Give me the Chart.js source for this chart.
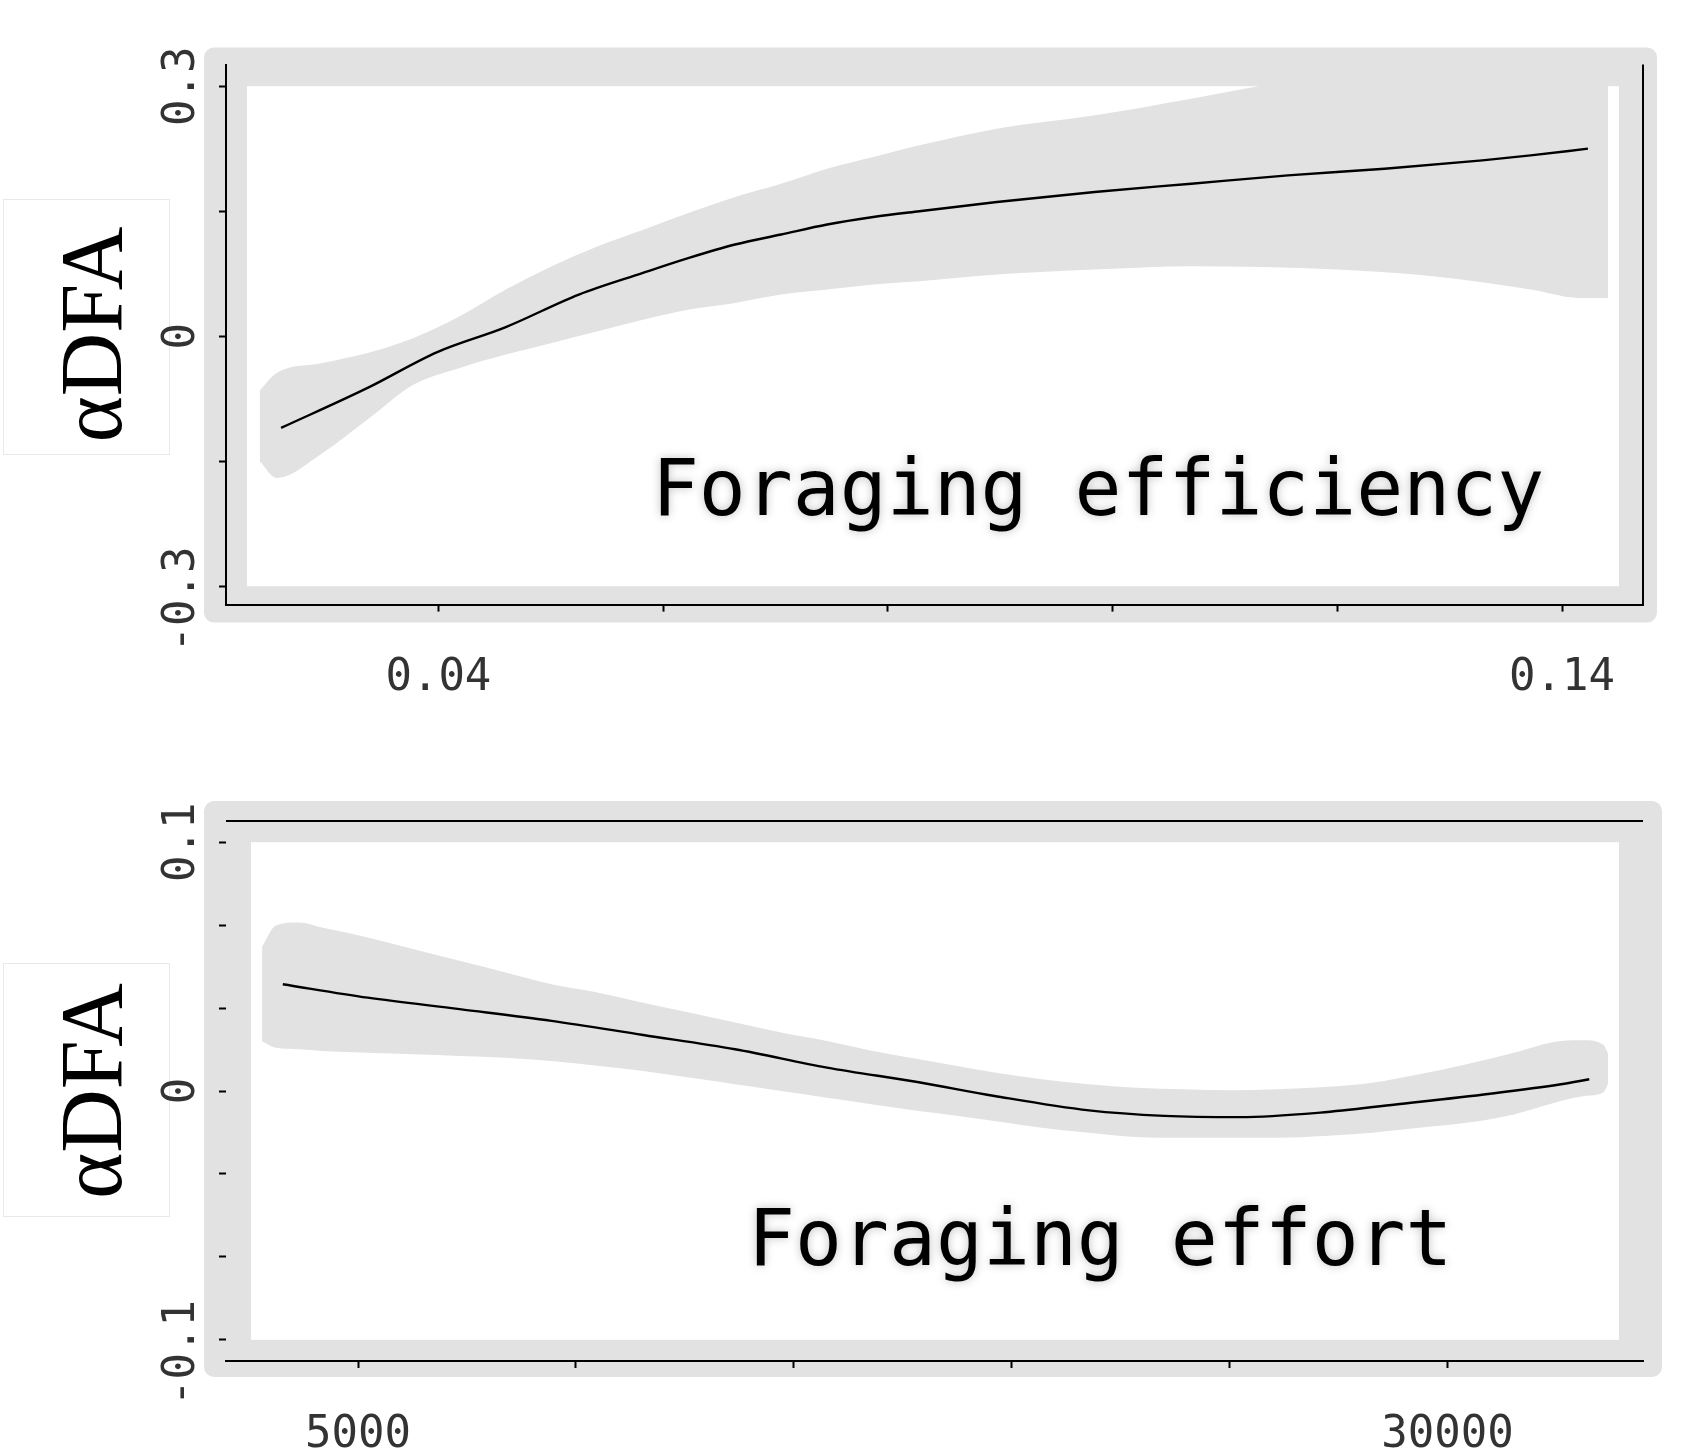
<!DOCTYPE html>
<html>
<head>
<meta charset="utf-8">
<title>Foraging efficiency / effort vs αDFA</title>
<script src="https://cdn.jsdelivr.net/npm/chart.js@4.4.1/dist/chart.umd.min.js"></script>
<style>
    html, body { margin: 0; padding: 0; background: #fff; }
    .panel { position: absolute; left: 0; width: 1687px; height: 724px; }
    #top-panel { top: 0; }
    #bottom-panel { top: 724px; }
</style>
</head>
<body>
<div class="panel" id="top-panel"><canvas id="efficiencyChart"></canvas></div>
<div class="panel" id="bottom-panel"><canvas id="effortChart"></canvas></div>

<script>
// --- Foraging efficiency (top panel) ---
const effLineX = [0.0260, 0.0337, 0.0399, 0.0460, 0.0525, 0.0582, 0.0623, 0.0664, 0.0705, 0.0746,
                  0.0787, 0.0828, 0.0897, 0.0984, 0.1070, 0.1156, 0.1242, 0.1329, 0.1372, 0.1423];
const effLineY = [-0.110, -0.062, -0.019, 0.011, 0.050, 0.076, 0.094, 0.110, 0.122, 0.134,
                  0.143, 0.150, 0.161, 0.173, 0.183, 0.193, 0.201, 0.211, 0.217, 0.225];

const effBandX = [0.0241, 0.0256, 0.0297, 0.0337, 0.0378, 0.0419, 0.0460, 0.0501, 0.0542, 0.0583,
                  0.0623, 0.0664, 0.0705, 0.0746, 0.0787, 0.0828, 0.0897, 0.0984, 0.1070, 0.1134,
                  0.1200, 0.1285, 0.1372, 0.1415, 0.1441];
const effBandUpper = [-0.065, -0.044, -0.032, -0.020, -0.002, 0.024, 0.056, 0.084, 0.108, 0.128,
                      0.148, 0.167, 0.183, 0.201, 0.215, 0.229, 0.249, 0.265, 0.285, 0.301,
                      0.316, 0.335, 0.355, 0.360, 0.360];
const effBandLower = [-0.150, -0.170, -0.140, -0.100, -0.058, -0.038, -0.022, -0.008, 0.006, 0.020,
                      0.032, 0.040, 0.050, 0.056, 0.062, 0.066, 0.074, 0.080, 0.084, 0.083,
                      0.080, 0.072, 0.056, 0.046, 0.046];

const effXTicks = [0.04, 0.06, 0.08, 0.10, 0.12, 0.14];
const effXLabels = ['0.04', '', '', '', '', '0.14'];
const effYTicks = [-0.3, -0.15, 0, 0.15, 0.3];
const effYLabels = ['-0.3 ', '', '0', '', '0.3'];

// --- Foraging effort (bottom panel) ---
const effortLineX = [3274, 5223, 7332, 9439, 11545, 13652, 15761, 17868, 19605, 21772,
                     23500, 25237, 27078, 28811, 30977, 32602, 33251];
const effortLineY = [0.0429, 0.0375, 0.0329, 0.0282, 0.0225, 0.0168, 0.0094, 0.0035, -0.0020, -0.0078,
                     -0.0100, -0.0105, -0.0087, -0.0054, -0.0011, 0.0027, 0.0047];

const effortBandX = [2799, 3116, 3644, 4169, 5223, 6278, 7332, 8385, 9439, 10492,
                     11545, 12599, 13652, 14708, 15761, 16815, 17868, 18522, 19605, 20689,
                     21772, 22856, 23939, 25020, 26103, 27186, 28269, 29352, 30435, 31519,
                     32602, 33144, 33578, 33686];
const effortBandUpper = [0.0580, 0.0665, 0.0677, 0.0657, 0.0617, 0.0570, 0.0523, 0.0476, 0.0429, 0.0396,
                         0.0355, 0.0315, 0.0275, 0.0235, 0.0201, 0.0161, 0.0128, 0.0107, 0.0074, 0.0047,
                         0.0027, 0.0013, 0.0007, 0.0003, 0.0007, 0.0016, 0.0033, 0.0067, 0.0107, 0.0154,
                         0.0201, 0.0204, 0.0185, 0.0150];
const effortBandLower = [0.0200, 0.0174, 0.0168, 0.0161, 0.0154, 0.0148, 0.0141, 0.0134, 0.0121, 0.0101,
                         0.0080, 0.0054, 0.0027, 0.0000, -0.0027, -0.0054, -0.0080, -0.0094, -0.0121, -0.0148,
                         -0.0168, -0.0185, -0.0188, -0.0188, -0.0188, -0.0181, -0.0168, -0.0148, -0.0128, -0.0094,
                         -0.0040, -0.0020, -0.0005, 0.0030];

const effortXTicks = [5000, 10000, 15000, 20000, 25000, 30000];
const effortXLabels = ['5000', '', '', '', '', '30000'];
const effortYTicks = [-0.1, -0.2 / 3, -0.1 / 3, 0, 0.1 / 3, 0.2 / 3, 0.1];
const effortYLabels = ['-0.1 ', '', '', '0', '', '', '0.1'];

const GREY = '#e2e2e2';
const MONO = 'DejaVu Sans Mono';

function toPoints(xs, ys) {
    return xs.map((x, i) => ({ x: x, y: ys[i] }));
}

// --- Grey frame, extra edges and the in-plot caption ---
const panelFrame = {
    id: 'panelFrame',
    beforeDraw(chart, args, o) {
        const { ctx, chartArea: a } = chart;
        const y = chart.scales.y;
        ctx.save();
        // white box behind the axis title
        const b = o.labelBox;
        ctx.fillStyle = '#fff';
        ctx.fillRect(b[0], b[1], b[2], b[3]);
        ctx.strokeStyle = '#e9e9e9';
        ctx.lineWidth = 1;
        ctx.strokeRect(b[0] + 0.5, b[1] + 0.5, b[2], b[3]);
        // grey frame
        ctx.fillStyle = GREY;
        ctx.beginPath();
        ctx.roundRect(a.left - o.outer[0], a.top - o.outer[1],
            a.width + o.outer[0] + o.outer[2], a.height + o.outer[1] + o.outer[3], 10);
        ctx.fill();
        // white interior, between the outer y ticks
        const top = y.getPixelForValue(o.innerMax);
        const bottom = y.getPixelForValue(o.innerMin);
        ctx.fillStyle = '#fff';
        ctx.fillRect(a.left + o.inner[0], top, a.width - o.inner[0] - o.inner[1], bottom - top);
        ctx.restore();
    },
    beforeDatasetsDraw(chart, args, o) {
        const { ctx, chartArea: a } = chart;
        ctx.save();
        ctx.strokeStyle = '#000';
        ctx.lineWidth = 2;
        ctx.beginPath();
        if (o.edges.includes('right')) { ctx.moveTo(a.right, a.top); ctx.lineTo(a.right, a.bottom); }
        if (o.edges.includes('top')) { ctx.moveTo(a.left, a.top); ctx.lineTo(a.right, a.top); }
        ctx.stroke();
        ctx.restore();
    },
    afterDatasetsDraw(chart, args, o) {
        const { ctx, scales: { x, y } } = chart;
        ctx.save();
        ctx.font = '78px "' + MONO + '"';
        ctx.textBaseline = 'alphabetic';
        ctx.textAlign = 'left';
        ctx.fillStyle = '#000';
        ctx.shadowColor = 'rgba(0,0,0,0.25)';
        ctx.shadowBlur = 10;
        ctx.fillText(o.note, x.getPixelForValue(o.noteAt[0]), y.getPixelForValue(o.noteAt[1]));
        ctx.restore();
    }
};

function buildPanel(canvasId, p) {
    const tickFont = { family: MONO, size: 44 };
    return new Chart(document.getElementById(canvasId), {
        type: 'line',
        data: {
            datasets: [
                {
                    data: toPoints(p.lineX, p.lineY),
                    borderColor: '#000', borderWidth: 2.4, pointRadius: 0,
                    cubicInterpolationMode: 'monotone', fill: false
                },
                {
                    data: toPoints(p.bandX, p.bandUpper),
                    borderColor: 'rgba(0,0,0,0)', borderWidth: 0, pointRadius: 0,
                    cubicInterpolationMode: 'monotone', fill: false
                },
                {
                    data: toPoints(p.bandX, p.bandLower),
                    borderColor: 'rgba(0,0,0,0)', borderWidth: 0, pointRadius: 0,
                    cubicInterpolationMode: 'monotone', fill: '-1', backgroundColor: GREY
                }
            ]
        },
        options: {
            responsive: true,
            maintainAspectRatio: false,
            devicePixelRatio: 1,
            animation: false,
            events: [],
            layout: { padding: p.padding },
            plugins: {
                legend: { display: false },
                tooltip: { enabled: false },
                panelFrame: p.frame
            },
            scales: {
                x: {
                    type: 'linear', min: p.xMin, max: p.xMax,
                    afterBuildTicks: s => { s.ticks = p.xTicks.map(v => ({ value: v })); },
                    afterFit: s => { s.height = p.xHeight; },
                    grid: { display: true, drawOnChartArea: false, drawTicks: true, tickLength: 7, tickColor: '#000', tickWidth: 2 },
                    border: { display: true, color: '#000', width: 2, dash: p.xDash },
                    ticks: {
                        callback: (v, i) => p.xLabels[i],
                        autoSkip: false, maxRotation: 0, padding: 41,
                        color: '#333', font: tickFont
                    }
                },
                y: {
                    type: 'linear', min: p.yMin, max: p.yMax,
                    afterBuildTicks: s => { s.ticks = p.yTicks.map(v => ({ value: v })); },
                    afterFit: s => { s.width = 226; },
                    grid: { display: true, drawOnChartArea: false, drawTicks: true, tickLength: 7, tickColor: '#000', tickWidth: 2 },
                    border: { display: p.yBorder, color: '#000', width: 2 },
                    ticks: {
                        callback: (v, i) => p.yLabels[i],
                        autoSkip: false, minRotation: 90, maxRotation: 90,
                        crossAlign: 'center', padding: -30,
                        color: '#333', font: tickFont
                    },
                    title: {
                        display: true, text: 'αDFA', color: '#000',
                        font: { family: 'Liberation Serif', size: 88 },
                        padding: { top: 45, bottom: 0 }
                    }
                }
            }
        },
        plugins: [panelFrame]
    });
}

// --- Initialization ---
buildPanel('efficiencyChart', {
    lineX: effLineX, lineY: effLineY,
    bandX: effBandX, bandUpper: effBandUpper, bandLower: effBandLower,
    xMin: 0.0211, xMax: 0.1472, xTicks: effXTicks, xLabels: effXLabels, xDash: [], xHeight: 110,
    yMin: -0.322, yMax: 0.326, yTicks: effYTicks, yLabels: effYLabels, yBorder: true,
    padding: { left: 0, top: 64.5, right: 44, bottom: 9.4 },
    frame: {
        labelBox: [3, 199, 166, 255],
        outer: [22, 17, 14, 18], inner: [21, 24],
        innerMax: 0.3, innerMin: -0.3,
        edges: ['right'],
        note: 'Foraging efficiency', noteAt: [0.0590, -0.215]
    }
});

buildPanel('effortChart', {
    lineX: effortLineX, lineY: effortLineY,
    bandX: effortBandX, bandUpper: effortBandUpper, bandLower: effortBandLower,
    xMin: 1971, xMax: 34484, xTicks: effortXTicks, xLabels: effortXLabels, xDash: [12, 3], xHeight: 87,
    yMin: -0.1085, yMax: 0.1085, yTicks: effortYTicks, yLabels: effortYLabels, yBorder: false,
    padding: { left: 0, top: 97, right: 44, bottom: 0 },
    frame: {
        labelBox: [3, 239, 166, 253],
        outer: [22, 20, 19, 16], inner: [25, 24],
        innerMax: 0.1, innerMin: -0.1,
        edges: ['top'],
        note: 'Foraging effort', noteAt: [13951, -0.070]
    }
});
</script>
</body>
</html>
